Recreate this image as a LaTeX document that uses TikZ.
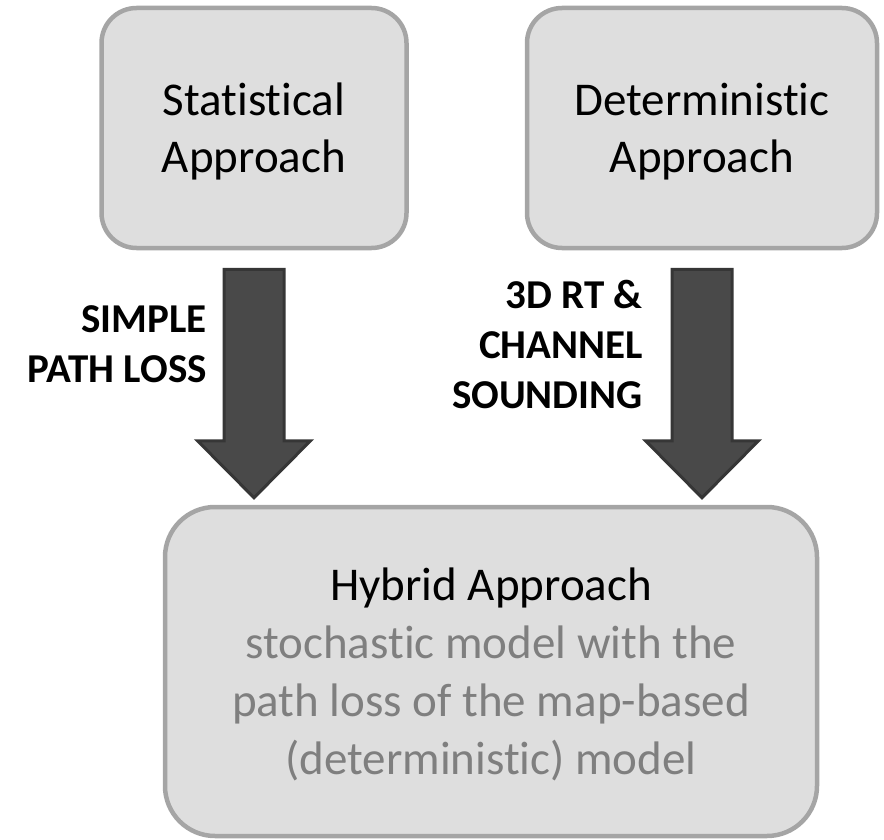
\documentclass[tikz,border=0pt]{standalone}
\usepackage{fontspec}
\setmainfont{Carlito}[RawFeature=-liga]
\usepackage{xcolor}
\usetikzlibrary{calc}
\definecolor{BoxFill}{HTML}{DEDEDE}
\definecolor{BoxLine}{HTML}{A5A5A5}
\definecolor{ArrFill}{HTML}{494949}
\definecolor{ArrLine}{HTML}{363636}
\definecolor{SubGray}{HTML}{7F7F7F}

\begin{document}
\begin{tikzpicture}[
  x=1pt,y=-1pt,
  every node/.style={inner sep=0pt},
  appr/.style={draw=BoxLine,line width=4.5pt,fill=BoxFill,rounded corners=35pt,
    align=center,text depth=0pt,font=\fontsize{47}{57}\selectfont},
  lbl/.style={anchor=east,align=right,font=\fontsize{41}{50}\selectfont\bfseries},
  blk/.style={draw=ArrLine,line width=3pt,fill=ArrFill}
]
  \useasboundingbox (0,0) rectangle (884,840);
  \node[appr,minimum width=305pt,minimum height=240pt] (stat) at (254,128)
    {Statistical\\Approach};
  \node[appr,minimum width=350pt,minimum height=240pt] (det) at (702,128)
    {Deterministic\\Approach};
  \node[appr,rounded corners=50pt,minimum width=652pt,minimum height=329pt,
    font=\fontsize{47}{58}\selectfont] (hyb) at (491,671.5)
    {Hybrid Approach\\\textcolor{SubGray}{stochastic model with the}\\
     \textcolor{SubGray}{path loss of the map-based}\\
     \textcolor{SubGray}{(deterministic) model}};
  \foreach \src in {stat,det}
    {\draw[blk] ($(\src.south)+(-30,19)$) -- ($(\src.south |- hyb.north)+(-30,-64)$)
       -- ++(-26.5,0) -- ($(\src.south |- hyb.north)+(0,-7)$)
       -- ($(\src.south |- hyb.north)+(56.5,-64)$) -- ++(-26.5,0)
       -- ($(\src.south)+(30,19)$) -- cycle;}
  \node[lbl] (simple) at (207,344) {SIMPLE\\PATH LOSS};
  \node[lbl] (rtcs) at (643,344) {3D RT \&\\CHANNEL\\SOUNDING};
\end{tikzpicture}
\end{document}
